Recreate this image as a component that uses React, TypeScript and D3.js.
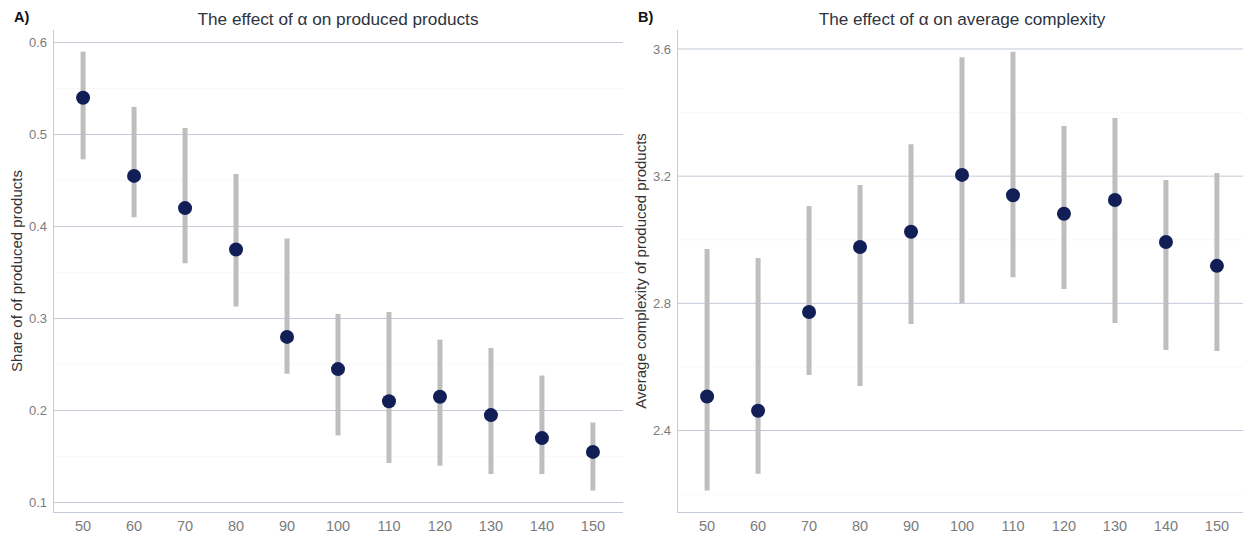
import React from "react";
import * as d3 from "d3";

const alphaLevels = ["50", "60", "70", "80", "90", "100", "110", "120", "130", "140", "150"];

const shareMean = [0.540, 0.455, 0.420, 0.375, 0.280, 0.245, 0.210, 0.215, 0.195, 0.170, 0.155];
const shareLow = [0.473, 0.410, 0.360, 0.313, 0.240, 0.173, 0.143, 0.140, 0.131, 0.131, 0.113];
const shareHigh = [0.590, 0.530, 0.507, 0.457, 0.387, 0.305, 0.307, 0.277, 0.268, 0.238, 0.187];

const complexityMean = [2.507, 2.462, 2.773, 2.977, 3.025, 3.204, 3.140, 3.082, 3.125, 2.993, 2.918];
const complexityLow = [2.211, 2.264, 2.575, 2.540, 2.735, 2.800, 2.882, 2.845, 2.738, 2.653, 2.650];
const complexityHigh = [2.971, 2.943, 3.106, 3.172, 3.300, 3.574, 3.591, 3.358, 3.383, 3.188, 3.210];

const shareTicks = [0.1, 0.2, 0.3, 0.4, 0.5, 0.6];
const shareMinor = [0.15, 0.25, 0.35, 0.45, 0.55];
const complexityTicks = [2.4, 2.8, 3.2, 3.6];
const complexityMinor = [2.2, 2.6, 3.0, 3.4];

const FONT = "'Liberation Sans', Arial, Helvetica, sans-serif";

type PanelProps = {
  tag: string;
  title: string;
  yTitle: string;
  mean: number[];
  low: number[];
  high: number[];
  ticks: number[];
  minor: number[];
  yDomain: [number, number];
  left: number;
  right: number;
  yTitleX: number;
  fmt: (v: number) => string;
};

function Panel(p: PanelProps) {
  const top = 30;
  const bottom = 512.5;
  const x = d3.scalePoint<string>().domain(alphaLevels).range([p.left, p.right]).padding(0.59);
  const y = d3.scaleLinear().domain(p.yDomain).range([bottom, top]);
  const cx = (p.left + p.right) / 2;
  return (
    <g>
      <text x={p.left - 39} y={22} fontSize={14.5} fontWeight="bold" fill="#111" fontFamily={FONT}>{p.tag}</text>
      <text x={cx} y={24.5} fontSize={17.2} fill="#2d3340" textAnchor="middle" fontFamily={FONT}>{p.title}</text>
      {p.minor.map((t) => (
        <line key={"m" + t} x1={p.left} x2={p.right} y1={y(t)} y2={y(t)} stroke="#e4e6ea" strokeWidth={1} strokeDasharray="1,3" />
      ))}
      {p.ticks.map((t) => (
        <g key={"t" + t}>
          <line x1={p.left} x2={p.right} y1={y(t)} y2={y(t)} stroke="#c3cbd8" strokeWidth={1} />
          <text x={p.left - 6} y={y(t)} dy="0.35em" fontSize={13} fill="#7b7b7b" textAnchor="end" fontFamily={FONT}>{p.fmt(t)}</text>
        </g>
      ))}
      <line x1={p.left + 0.5} x2={p.left + 0.5} y1={top} y2={bottom} stroke="#c3cbd8" strokeWidth={1} />
      <line x1={p.left} x2={p.right} y1={bottom} y2={bottom} stroke="#c3cbd8" strokeWidth={1} />
      {alphaLevels.map((a) => (
        <text key={"x" + a} x={x(a)} y={531} fontSize={14.5} fill="#7b7b7b" textAnchor="middle" fontFamily={FONT}>{a}</text>
      ))}
      <text transform={`translate(${p.yTitleX},271) rotate(-90)`} fontSize={15} fill="#333" textAnchor="middle" fontFamily={FONT}>{p.yTitle}</text>
      {alphaLevels.map((a, i) => (
        <line key={"e" + a} x1={x(a)} x2={x(a)} y1={y(p.low[i])} y2={y(p.high[i])} stroke="#bebebe" strokeWidth={5} />
      ))}
      {alphaLevels.map((a, i) => (
        <circle key={"c" + a} cx={x(a)} cy={y(p.mean[i])} r={7} fill="#121f57" />
      ))}
    </g>
  );
}

export default function App() {
  return (
    <svg width={1243} height={537} style={{ position: "absolute", left: 0, top: 0, background: "#fff" }}>
      <Panel
        tag="A)"
        title="The effect of α on produced products"
        yTitle="Share of of produced products"
        mean={shareMean}
        low={shareLow}
        high={shareHigh}
        ticks={shareTicks}
        minor={shareMinor}
        yDomain={[0.08913, 0.61359]}
        left={53}
        right={623}
        yTitleX={22}
        fmt={(v) => d3.format(".1f")(v)}
      />
      <Panel
        tag="B)"
        title="The effect of α on average complexity"
        yTitle="Average complexity of produced products"
        mean={complexityMean}
        low={complexityLow}
        high={complexityHigh}
        ticks={complexityTicks}
        minor={complexityMinor}
        yDomain={[2.1422, 3.6597]}
        left={677}
        right={1247}
        yTitleX={646}
        fmt={(v) => d3.format(".1f")(v)}
      />
    </svg>
  );
}
